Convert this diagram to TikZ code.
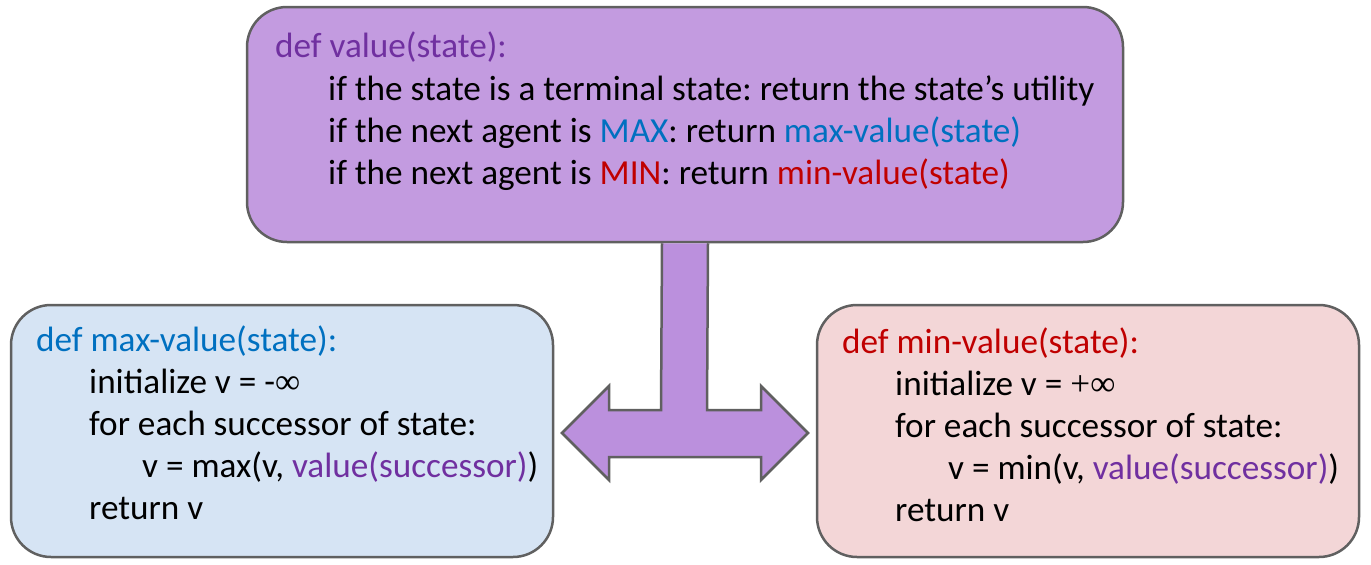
\documentclass[tikz,border=0pt]{standalone}
\usepackage{fontspec}
\setmainfont{Carlito}
\newfontfamily\symf{Liberation Serif}
\usetikzlibrary{calc}
\frenchspacing
\definecolor{edge}{HTML}{606060}
\definecolor{topfill}{HTML}{C39BE0}
\definecolor{arrowfill}{HTML}{BB90DD}
\definecolor{leftfill}{HTML}{D6E4F4}
\definecolor{rightfill}{HTML}{F3D6D7}
\definecolor{cpurple}{HTML}{7030A0}
\definecolor{cblue}{HTML}{0070C0}
\definecolor{cred}{HTML}{C00000}
\tikzset{
  box/.style={draw=edge, line width=2.5pt, rounded corners=40pt, inner sep=0pt},
  tx/.style={anchor=base west, inner sep=0pt, font=\fontsize{35.2}{42}\selectfont\frenchspacing},
}
\begin{document}
\begin{tikzpicture}[x=1pt,y=-1pt]
\useasboundingbox (0,0) rectangle (1371,565);
% boxes
\node[box, fill=topfill, minimum width=876pt, minimum height=235pt] (top) at (685,124.5) {};
\node[box, fill=leftfill, minimum width=542pt, minimum height=252pt] (maxb) at (282,431) {};
\node[box, fill=rightfill, minimum width=542pt, minimum height=252pt] (minb) at (1088,431) {};
% T-shaped double arrow
\filldraw[fill=arrowfill, draw=edge, line width=2.5pt, line join=miter]
  ($(top.south)+(-23,0)$) -- (661,410) -- (609,410) -- (609,386) -- (562,433)
  -- (609,480) -- (609,457) -- (761,457) -- (761,480) -- (808,433) -- (761,386)
  -- (761,410) -- (707,410) -- ($(top.south)+(23,0)$);
% top text
\node[tx, text=cpurple] (t0) at (275,57) {def value(state):};
\node[tx] (t1) at (328,100) {if the state is a terminal state: return the state’s utility};
\node[tx] (t2) at (328,142) {if the next agent is \textcolor{cblue}{MAX}: return \textcolor{cblue}{max-value(state)}};
\node[tx] (t3) at (328,184) {if the next agent is \textcolor{cred}{MIN}: return \textcolor{cred}{min-value(state)}};
% left text
\node[tx, text=cblue] (l0) at (36,351) {def max-value(state):};
\node[tx] (l1) at (89,393) {initialize v = -{\symf ∞}};
\node[tx] (l2) at (89,435) {for each successor of state:};
\node[tx] (l3) at (142,477) {v = max(v, \textcolor{cpurple}{value(successor)})};
\node[tx] (l4) at (89,519) {return v};
% right text
\node[tx, text=cred] (r0) at (842,353) {def min-value(state):};
\node[tx] (r1) at (895,395) {initialize v = {\symf +∞}};
\node[tx] (r2) at (895,437) {for each successor of state:};
\node[tx] (r3) at (948,479) {v = min(v, \textcolor{cpurple}{value(successor)})};
\node[tx] (r4) at (895,521) {return v};
\end{tikzpicture}
\end{document}
